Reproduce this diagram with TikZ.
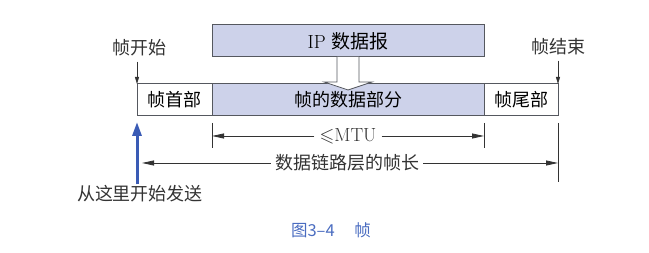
\documentclass[tikz,border=0pt]{standalone}
\usepackage{amssymb}
\usepackage{fontspec}
\newfontfamily\cjk{Noto Sans CJK SC}
\usepackage{xcolor}
\usepackage{tikz}
\usetikzlibrary{arrows.meta,positioning,calc}

\definecolor{datafill}{HTML}{CDD2EA}
\definecolor{edgegray}{HTML}{55585F}
\definecolor{sendblue}{HTML}{3A5BB5}
\definecolor{capblue}{HTML}{4A6CC0}

\begin{document}
\begin{tikzpicture}[
  x=1pt, y=-1pt,
  node distance=0pt,
  field/.style={draw=edgegray, line width=1pt, minimum height=32pt, inner sep=0pt, outer sep=0pt,
    font=\fontsize{18}{20}\selectfont\cjk},
  datafield/.style={field, fill=datafill},
  lbl/.style={font=\fontsize{18}{20}\selectfont\cjk, inner sep=1pt, text=black!80},
  arr/.style={-{Triangle[length=12pt,width=5pt]}, line width=0.8pt, draw=black!80},
  tick/.style={line width=0.8pt, draw=black!80},
  downarr/.style={-{Triangle[length=7pt,width=4pt]}, line width=0.8pt, draw=black!80}
]
  \useasboundingbox (0,0) rectangle (649,253);

  % frame row
  \node[field, minimum width=75pt] (hdr) at (174.5,100) {帧首部};
  \node[datafield, minimum width=272pt, right=of hdr] (data) {帧的数据部分};
  \node[field, minimum width=74pt, right=of data] (trl) {帧尾部};
  \node[datafield, minimum width=272pt, above=27pt of data] (ip) {\rmfamily\fontsize{19}{20}\selectfont IP \cjk 数据报};

  % hollow arrow from IP datagram down into frame
  \draw[edgegray, fill=white, line width=0.8pt]
    ($(ip.south)+(-11,0)$) -- ++(0,25) -- ++(-13,0) -- ($(data.north)+(0,6)$)
    -- ($(ip.south)+(24,25)$) -- ++(-13,0) -- ($(ip.south)+(11,0)$);

  % start / end marks
  \node[lbl] (start) at (139,48) {帧开始};
  \node[lbl] (stop) at (558,47) {帧结束};
  \draw[downarr] (start.south -| hdr.north west) ++(0,4) coordinate (s0) -- (hdr.north west);
  \draw[downarr] (stop.south -| trl.north east) ++(0,4) coordinate (e0) -- (trl.north east);

  % MTU dimension
  \coordinate (m1) at ($(data.south west)+(0,7)$);
  \coordinate (m2) at ($(data.south east)+(0,7)$);
  \draw[tick] (m1) -- ++(0,25);
  \draw[tick] (m2) -- ++(0,25);
  \node[lbl, fill=white, inner sep=5pt] (mtu) at ($(m1)!0.5!(m2)+(0,13)$) {\rmfamily\fontsize{19}{20}\selectfont$\leqslant$MTU};
  \draw[arr] (mtu.west) -- (mtu.west -| m1);
  \draw[arr] (mtu.east) -- (mtu.east -| m2);

  % frame length dimension
  \coordinate (f2) at ($(trl.south east)+(0,7)$);
  \draw[tick] (f2) -- ++(0,59);
  \node[lbl, fill=white, inner sep=4pt] (flen) at (347,163) {数据链路层的帧长};
  \draw[arr] (flen.west) -- ($(flen.west -| hdr.west)+(5,0)$);
  \draw[arr] (flen.east) -- (flen.east -| f2);

  % sending starts here
  \node[lbl] (send) at (140,194) {从这里开始发送};
  \draw[sendblue, line width=3pt, -{Triangle[length=14pt,width=9pt]}]
    (send.north -| hdr.west) -- ($(hdr.south west)+(0,6)$);

  % caption
  \node[font=\fontsize{16.5}{18}\selectfont\cjk, text=capblue] (cap) at (331,230) {图3–4\hspace{1.2em}帧};
\end{tikzpicture}
\end{document}
